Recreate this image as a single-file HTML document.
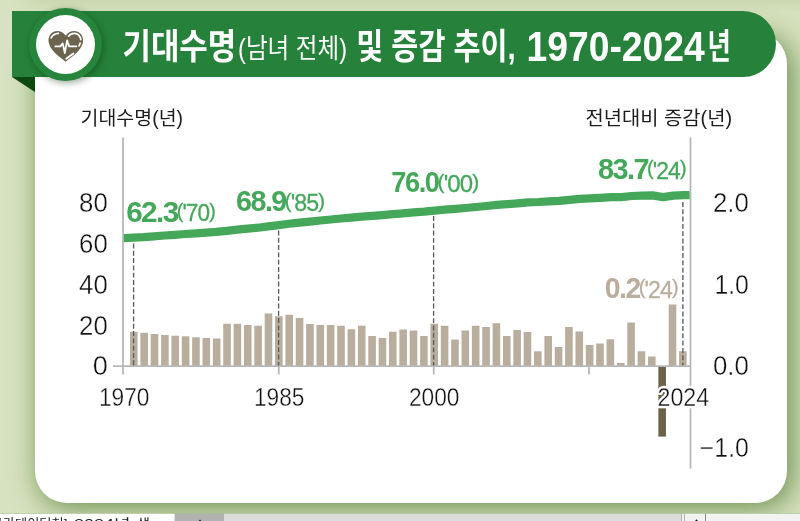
<!DOCTYPE html>
<html lang="ko">
<head>
<meta charset="utf-8">
<title>기대수명(남녀 전체) 및 증감 추이, 1970-2024년</title>
<style>
html,body{margin:0;padding:0}
body{width:800px;height:521px;overflow:hidden;position:relative;background:#d5e1be;font-family:"Liberation Sans","Noto Sans CJK KR",sans-serif}
#bg{position:absolute;left:0;top:0;width:800px;height:521px;background:linear-gradient(to right,rgba(214,226,192,1) 12px,rgba(214,226,192,0) 40px),linear-gradient(to bottom,#cad8b2 0,#d5e1be 13px,#d5e1be 100%)}
#card{position:absolute;left:35.2px;top:32px;width:751.5px;height:470.8px;background:#fff;border-radius:32px;box-shadow:4.5px 4.5px 28px 0 #6c8e4e}
#fold{position:absolute;left:11.7px;top:76.9px;width:0;height:0;border-style:solid;border-width:0 23.3px 15.7px 0;border-color:transparent #0c480f transparent transparent}
#banner{position:absolute;left:11.5px;top:11.3px;width:764.8px;height:65.7px;background:#26823a;border-radius:0 32.9px 32.9px 0}
#ring{position:absolute;left:29.4px;top:7.9px;width:72.8px;height:72.8px;border-radius:50%;background:#27853b;box-shadow:1.5px 2px 7px rgba(0,40,0,.4)}
#disc{position:absolute;left:36.2px;top:14.7px;width:59.3px;height:59.3px;border-radius:50%;background:#fff}
svg#g{position:absolute;left:0;top:0;will-change:transform}
.sr{position:absolute;color:transparent;font-size:10px;white-space:nowrap;overflow:hidden;width:1px;height:1px;left:0;top:0}
#strip{position:absolute;left:0;top:513px;width:800px;height:8px;background:#dcdcdc;box-sizing:border-box}
#stripfade{position:absolute;left:0;top:513px;width:800px;height:1px;background:rgba(168,190,140,.72)}
#strip i{position:absolute;top:0;height:8px;display:block}
text{font-family:"Liberation Sans","Noto Sans CJK KR",sans-serif}
</style>
</head>
<body>
<div id="bg"></div>
<div id="card"></div>
<div id="fold"></div>
<div id="banner"></div>
<div id="ring"></div>
<div id="disc"></div>
<div id="strip">
<i style="left:0;width:174px;background:#fff"></i>
<i style="left:175px;width:49px;background:#b2b2b2"></i>
<i style="left:681px;width:1px;background:#b4b4b4"></i>
<i style="left:682px;width:2px;background:#f0f0f0"></i>
<i style="left:684px;width:1px;background:#b4b4b4"></i>
<i style="left:685px;width:20px;background:#f2f2f2"></i>
<i style="left:705px;width:1px;background:#8c8c8c"></i>
<i style="left:706px;width:94px;background:#f3f3f3"></i>
</div>
<div id="stripfade"></div>
<h1 class="sr">기대수명(남녀 전체) 및 증감 추이, 1970-2024년</h1>
<p class="sr">기대수명(년) / 전년대비 증감(년)</p>
<svg id="g" width="800" height="521" viewBox="0 0 800 521">
<!-- heart icon -->
<g id="heart">
<path d="M65.7 61.8 C61 57.6 48.5 50.2 48.5 40.3 C48.5 34.6 52.7 31 57.1 31 C60.8 31 63.9 32.9 65.7 35.8 C67.5 32.9 70.6 31 74.3 31 C78.8 31 83.1 34.6 83.1 40.3 C83.1 50.2 70.4 57.6 65.7 61.8Z" fill="#6c644f"/>
<g fill="none" stroke="#fff" stroke-linecap="round" stroke-linejoin="round">
<path d="M55.3 46.4H60.4l2.3-3 2.1 9.6 2.3-12.6 2 6H76.4" stroke-width="1.75"/>
<path d="M51.1 37.8c1.2-2.6 3.9-4.3 7.3-4.5" stroke-width="1.7"/>
<path d="M68.6 36.2c1.3-1.9 3.6-3 6-2.9 3.3.2 5.6 2.8 6.2 6.3" stroke-width="1.7"/>
<path d="M80.1 43.1c-.2 1-.6 1.9-1.1 2.8" stroke-width="1.7"/>
<path d="M66.2 58.8l7.2-5.4" stroke-width="1.9"/>
</g>
</g>
<!-- title -->
<g id="title" fill="#fff">
<text x="122.5" y="59" font-size="35" font-weight="bold" textLength="113.7" lengthAdjust="spacingAndGlyphs">기대수명</text>
<text x="238.1" y="58" font-size="27" textLength="108.9" lengthAdjust="spacingAndGlyphs">(남녀 전체)</text>
<text x="356.2" y="59" font-size="35" font-weight="bold" textLength="159.6" lengthAdjust="spacingAndGlyphs">및 증감 추이,</text>
<text x="526.5" y="61" font-size="42.5" font-weight="bold" textLength="178.3" lengthAdjust="spacingAndGlyphs">1970-2024</text>
<text x="707.5" y="59" font-size="35" font-weight="bold" textLength="23.3" lengthAdjust="spacingAndGlyphs">년</text>
</g>
<!-- axis titles -->
<g id="axt" fill="#1c1c1c" font-size="19.5">
<text x="80.6" y="124.6" textLength="102.4" lengthAdjust="spacingAndGlyphs">기대수명(년)</text>
<text x="585.5" y="124.6" textLength="146.6" lengthAdjust="spacingAndGlyphs">전년대비 증감(년)</text>
</g>
<!-- bars -->
<g id="bars"><path d="M130.00 366.00h7.60v-34.25h-7.60zM140.36 366.00h7.60v-33.25h-7.60zM150.72 366.00h7.60v-32.00h-7.60zM161.08 366.00h7.60v-31.00h-7.60zM171.44 366.00h7.60v-30.25h-7.60zM181.80 366.00h7.60v-29.75h-7.60zM192.16 366.00h7.60v-28.75h-7.60zM202.52 366.00h7.60v-28.00h-7.60zM212.88 366.00h7.60v-27.50h-7.60zM223.24 366.00h7.60v-42.25h-7.60zM233.60 366.00h7.60v-42.25h-7.60zM243.96 366.00h7.60v-41.00h-7.60zM254.32 366.00h7.60v-40.25h-7.60zM264.68 366.00h7.60v-52.50h-7.60zM275.04 366.00h7.60v-49.75h-7.60zM285.40 366.00h7.60v-51.25h-7.60zM295.76 366.00h7.60v-48.00h-7.60zM306.12 366.00h7.60v-42.00h-7.60zM316.48 366.00h7.60v-41.00h-7.60zM326.84 366.00h7.60v-41.00h-7.60zM337.20 366.00h7.60v-40.25h-7.60zM347.56 366.00h7.60v-36.75h-7.60zM357.92 366.00h7.60v-40.25h-7.60zM368.28 366.00h7.60v-30.00h-7.60zM378.64 366.00h7.60v-28.00h-7.60zM389.00 366.00h7.60v-34.25h-7.60zM399.36 366.00h7.60v-36.50h-7.60zM409.72 366.00h7.60v-35.50h-7.60zM420.08 366.00h7.60v-30.00h-7.60zM430.44 366.00h7.60v-42.25h-7.60zM440.80 366.00h7.60v-40.25h-7.60zM451.16 366.00h7.60v-26.50h-7.60zM461.52 366.00h7.60v-35.50h-7.60zM471.88 366.00h7.60v-40.25h-7.60zM482.24 366.00h7.60v-39.00h-7.60zM492.60 366.00h7.60v-42.70h-7.60zM502.96 366.00h7.60v-30.10h-7.60zM513.32 366.00h7.60v-35.90h-7.60zM523.68 366.00h7.60v-34.10h-7.60zM534.04 366.00h7.60v-14.70h-7.60zM544.40 366.00h7.60v-30.10h-7.60zM554.76 366.00h7.60v-19.00h-7.60zM565.12 366.00h7.60v-39.00h-7.60zM575.48 366.00h7.60v-34.40h-7.60zM585.84 366.00h7.60v-20.90h-7.60zM596.20 366.00h7.60v-22.40h-7.60zM606.56 366.00h7.60v-26.70h-7.60zM616.92 366.00h7.60v-3.10h-7.60zM627.28 366.00h7.60v-43.60h-7.60zM637.64 366.00h7.60v-14.70h-7.60zM648.00 366.00h7.60v-9.50h-7.60zM668.72 366.00h7.60v-61.40h-7.60zM679.08 366.00h7.60v-14.70h-7.60z" fill="#b9ae9d"/>
<path d="M658.36 366.00h7.60v70.60h-7.60z" fill="#6a6349"/></g>
<!-- axes -->
<g id="axes" stroke="#b8b8b8" stroke-width="1.8" fill="none">
<path d="M123 137.5V374.5M690.5 137.5V468.5M113 366.2H691.3M278.75 366V374.5M433.75 366V374.5M589 366V374.5"/>
</g>
<!-- dashed guides -->
<g id="guides" stroke="#5c5c5c" stroke-width="1.35" stroke-dasharray="4.9 2.4" fill="none">
<path d="M133.6 243.5V365.5M278.6 230.5V365.5M433.6 216V365.5M682.9 202V365.5"/>
</g>
<!-- line -->
<g id="line"><path d="M123.8 238.1 L133.4 237.6 L143.8 237.1 L154.1 236.3 L164.5 235.5 L174.9 234.8 L185.3 234.0 L195.7 233.3 L206.1 232.6 L216.4 231.9 L226.8 230.8 L237.2 229.7 L247.6 228.7 L258.0 227.7 L268.4 226.4 L278.7 225.1 L289.1 223.8 L299.5 222.6 L309.9 221.6 L320.3 220.5 L330.7 219.5 L341.0 218.5 L351.4 217.6 L361.8 216.6 L372.2 215.8 L382.6 215.1 L393.0 214.2 L403.3 213.3 L413.7 212.4 L424.1 211.7 L434.5 210.6 L444.9 209.6 L455.3 208.9 L465.6 208.0 L476.0 207.0 L486.4 206.0 L496.8 204.9 L507.2 204.2 L517.6 203.3 L527.9 202.4 L538.3 202.0 L548.7 201.3 L559.1 200.8 L569.5 199.8 L579.9 198.9 L590.2 198.4 L600.6 197.8 L611.0 197.2 L621.4 197.1 L631.8 196.0 L642.1 195.6 L652.5 195.4 L662.9 197.1 L673.3 195.6 L683.7 195.2 L689.6 195.1" fill="none" stroke="#44a75a" stroke-width="8.2" stroke-linejoin="round"/></g>
<!-- numbers -->
<g id="nums" fill="#111" font-size="26.75" stroke="#fff" stroke-width="0.36">
<text x="79.1" y="212.4" textLength="28.7" lengthAdjust="spacingAndGlyphs">80</text>
<text x="79.1" y="253.1" textLength="28.7" lengthAdjust="spacingAndGlyphs">60</text>
<text x="79.1" y="293.9" textLength="28.7" lengthAdjust="spacingAndGlyphs">40</text>
<text x="79.1" y="334.6" textLength="28.7" lengthAdjust="spacingAndGlyphs">20</text>
<text x="92.7" y="375.4" textLength="15.1" lengthAdjust="spacingAndGlyphs">0</text>
<text x="713.0" y="212.4" textLength="35.9" lengthAdjust="spacingAndGlyphs">2.0</text>
<text x="714.4" y="293.9" textLength="34.5" lengthAdjust="spacingAndGlyphs">1.0</text>
<text x="713.0" y="375.4" textLength="35.9" lengthAdjust="spacingAndGlyphs">0.0</text>
<text x="699.8" y="457.4" textLength="49.1" lengthAdjust="spacingAndGlyphs">−1.0</text>
</g>
<g id="xnums" fill="#111" font-size="25.15" stroke="#fff" stroke-width="0.36">
<text x="99.0" y="405.8" textLength="50.5" lengthAdjust="spacingAndGlyphs">1970</text>
<text x="254.0" y="405.8" textLength="50.5" lengthAdjust="spacingAndGlyphs">1985</text>
<text x="409.0" y="405.8" textLength="50.5" lengthAdjust="spacingAndGlyphs">2000</text>
<text x="657.5" y="405.8" textLength="51.6" lengthAdjust="spacingAndGlyphs" stroke-width="4.4" stroke-linejoin="round" fill="#fff">2024</text>
<text x="657.5" y="405.8" textLength="51.6" lengthAdjust="spacingAndGlyphs">2024</text>
</g>
<!-- data labels -->
<g id="labels" fill="#44a75a">
<text x="126.2" y="221.6" font-size="28.6" font-weight="bold" letter-spacing="-1.5" textLength="51.5" lengthAdjust="spacingAndGlyphs">62.3</text><text x="176.7" y="218.1" font-size="20.8" letter-spacing="-0.9" textLength="38.3" lengthAdjust="spacingAndGlyphs" stroke="#44a75a" stroke-width="0.3">(<tspan font-size="24" dy="3.3">'70</tspan><tspan dy="-3.3">)</tspan></text>
<text x="236.0" y="211.0" font-size="28.6" font-weight="bold" letter-spacing="-1.5" textLength="49.8" lengthAdjust="spacingAndGlyphs">68.9</text><text x="284.8" y="207.5" font-size="20.8" letter-spacing="-0.9" textLength="39.3" lengthAdjust="spacingAndGlyphs" stroke="#44a75a" stroke-width="0.3">(<tspan font-size="24" dy="3.3">'85</tspan><tspan dy="-3.3">)</tspan></text>
<text x="391.2" y="192.3" font-size="28.6" font-weight="bold" letter-spacing="-1.5" textLength="47.3" lengthAdjust="spacingAndGlyphs">76.0</text><text x="437.6" y="188.8" font-size="20.8" letter-spacing="-0.9" textLength="40.6" lengthAdjust="spacingAndGlyphs" stroke="#44a75a" stroke-width="0.3">(<tspan font-size="24" dy="3.3">'00</tspan><tspan dy="-3.3">)</tspan></text>
<text x="597.9" y="178.7" font-size="28.6" font-weight="bold" letter-spacing="-1.5" textLength="50.1" lengthAdjust="spacingAndGlyphs">83.7</text><text x="647.0" y="175.2" font-size="20.8" letter-spacing="-0.9" textLength="38.7" lengthAdjust="spacingAndGlyphs" stroke="#44a75a" stroke-width="0.3">(<tspan font-size="24" dy="3.3">'24</tspan><tspan dy="-3.3">)</tspan></text>
<text x="604.8" y="297.9" font-size="28.6" font-weight="bold" letter-spacing="-1.5" textLength="35.0" lengthAdjust="spacingAndGlyphs" fill="#b9ae9d">0.2</text><text x="638.7" y="294.4" font-size="20.8" letter-spacing="-0.9" textLength="39.2" lengthAdjust="spacingAndGlyphs" fill="#b9ae9d" stroke="#b9ae9d" stroke-width="0.3">(<tspan font-size="24" dy="3.3">'24</tspan><tspan dy="-3.3">)</tspan></text>
</g>
<path d="M695.1 521l1.4-1.7 1.4 1.7zM198.8 521l1.2-1.4 1.2 1.4z" fill="#111"/>
<g id="striptxt" fill="#222" font-size="12.5">
<text x="-9.5" y="527.8" textLength="77" lengthAdjust="spacingAndGlyphs">국가데이터처]</text>
<text x="74" y="528" textLength="56.5" lengthAdjust="spacingAndGlyphs">2024년</text>
<text x="137" y="527.8" textLength="13" lengthAdjust="spacingAndGlyphs">생</text>
</g>
</svg>
</body>
</html>
